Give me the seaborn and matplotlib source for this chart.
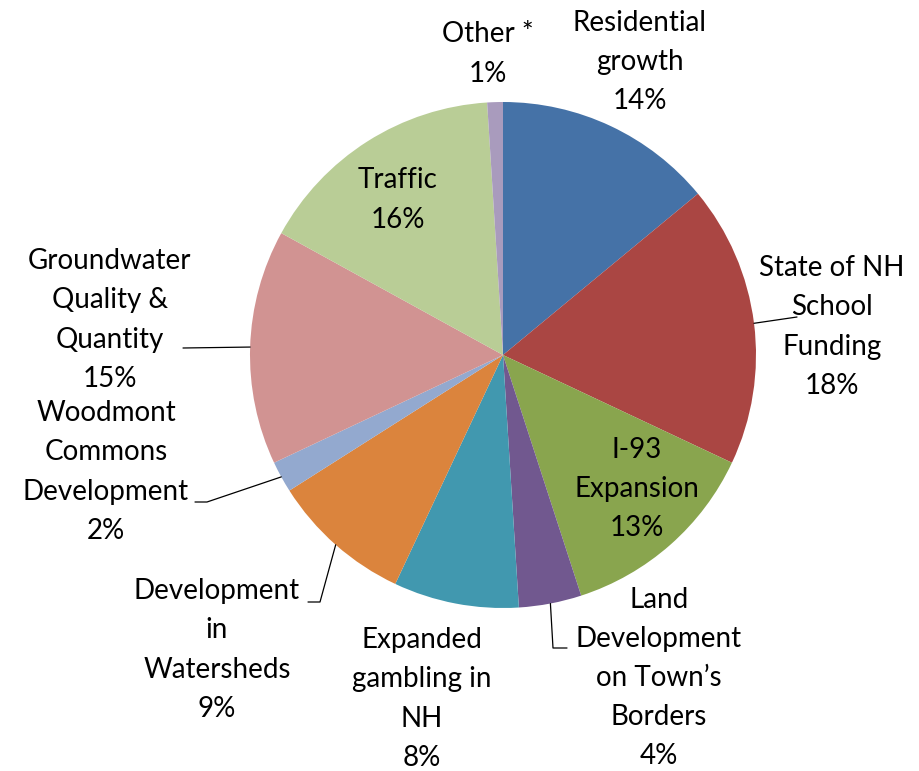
import matplotlib
matplotlib.use("Agg")
import matplotlib.pyplot as plt
import seaborn as sns
import numpy as np

# ---- data ----
categories = ["Residential\ngrowth", "State of NH\nSchool\nFunding", "I-93\nExpansion",
              "Land\nDevelopment\non Town\u2019s\nBorders", "Expanded\ngambling in\nNH",
              "Development\nin\nWatersheds", "Woodmont\nCommons\nDevelopment",
              "Groundwater\nQuality &\nQuantity", "Traffic", "Other *"]
percents = [14, 18, 13, 4, 8, 9, 2, 15, 16, 1]
colors = ["#4572A7", "#AA4643", "#89A54E", "#71588F", "#4198AF",
          "#DB843D", "#93A9CF", "#D19392", "#B9CD96", "#A99BBD"]

# ---- layout (pixel positions of label centres, top-left origin) ----
W, H = 920, 771
CX, CY, R = 503, 355, 253
label_pos = [(640, 62), (832, 327), (637, 489), (659, 678), (422, 699),
             (217, 650), (106, 472), (110, 320), (398, 200), (488, 54)]
# leader lines: list of label-side points (pixels), ending at wedge edge
leaders = {1: [(797, 317)],
           3: [(567, 648), (553, 648)],
           5: [(308, 602), (320, 602)],
           6: [(195, 502), (207, 502)],
           7: [(183, 348)]}

sns.set_theme(style="white")
plt.rcParams['font.family'] = ['Lato', 'DejaVu Sans']

fig = plt.figure(figsize=(W / 100, H / 100), dpi=100)
ax = fig.add_axes([0, 0, 1, 1])
wedges, _ = ax.pie(percents, colors=colors, startangle=90, counterclock=False,
                   center=(CX, H - CY), radius=R,
                   wedgeprops=dict(linewidth=0))
ax.set_xlim(0, W)
ax.set_ylim(0, H)
ax.set_aspect('equal')
ax.axis('off')

for i, (name, p) in enumerate(zip(categories, percents)):
    lx, ly = label_pos[i]
    ax.text(lx, H - ly, f"{name}\n{p}%", ha='center', va='center',
            multialignment='center', fontsize=20, color='black', linespacing=1.62)
    if i in leaders:
        w = wedges[i]
        mid = np.deg2rad((w.theta1 + w.theta2) / 2)
        ex = CX + R * np.cos(mid)
        ey = (H - CY) + R * np.sin(mid)
        pts = [(x, H - y) for x, y in leaders[i]] + [(ex, ey)]
        xs, ys = zip(*pts)
        ax.plot(xs, ys, color='black', lw=0.9)

fig.savefig("out.png", dpi=100)
